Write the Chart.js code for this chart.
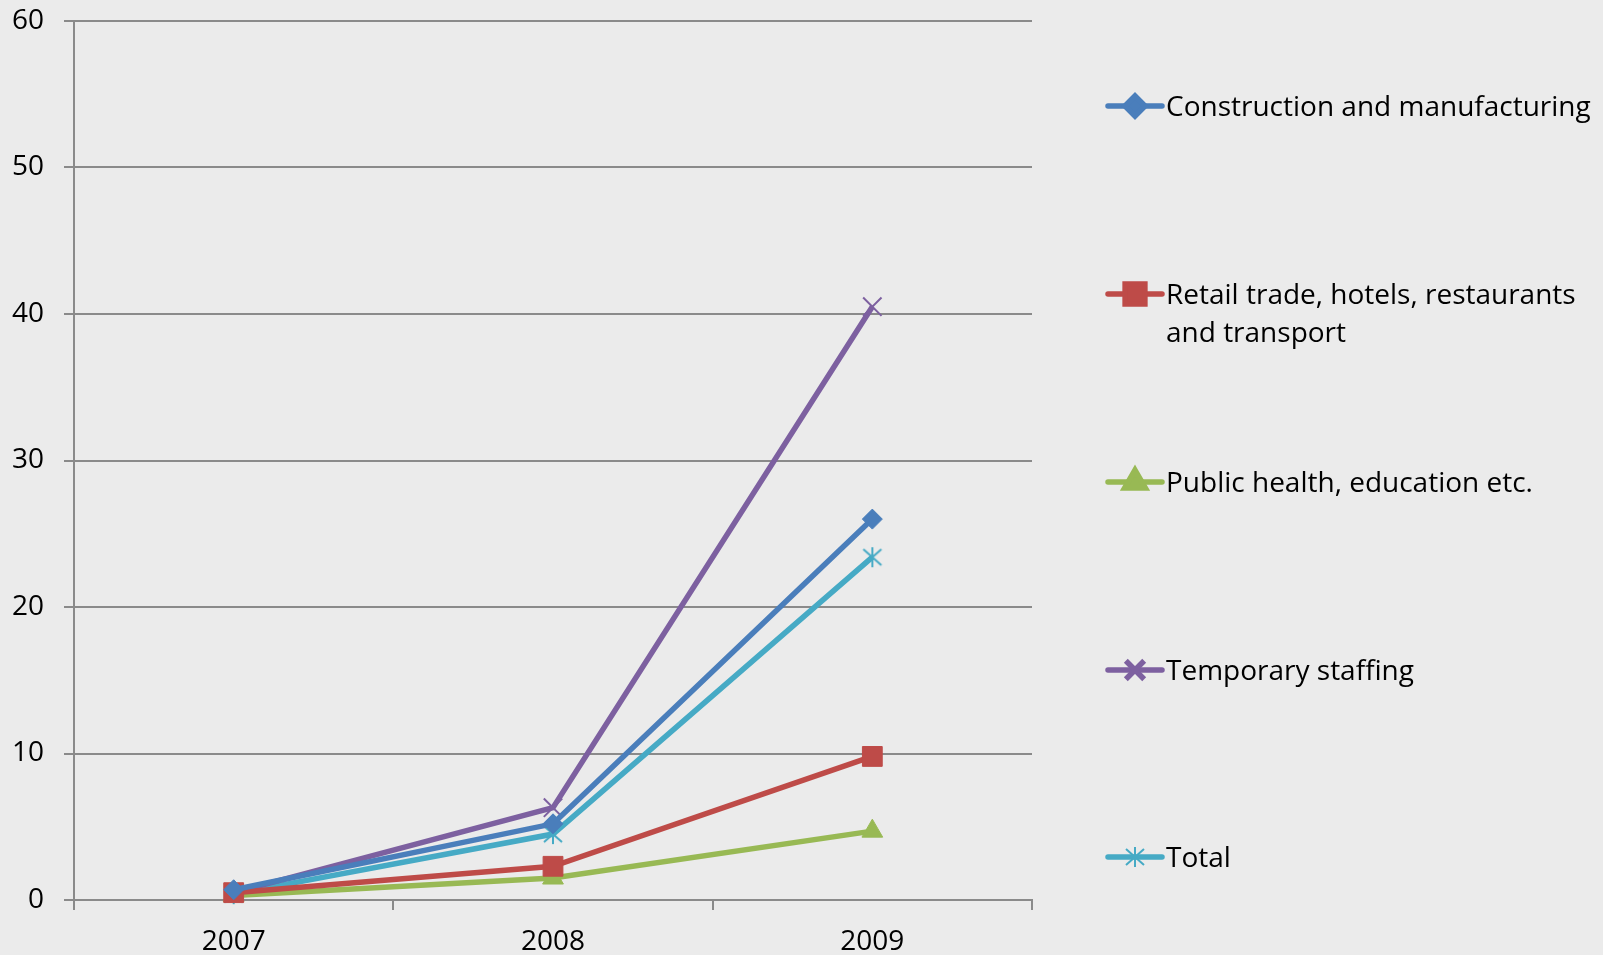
<!DOCTYPE html>
<html>
<head>
<meta charset="utf-8">
<script src="https://cdn.jsdelivr.net/npm/chart.js@4/dist/chart.umd.min.js"></script>
<style>
  html, body { margin: 0; padding: 0; background: #ebebeb; }
  canvas { display: block; }
</style>
</head>
<body>
<canvas id="trend" width="1603" height="955"></canvas>
<script>
// Categories and series
const years = ['2007', '2008', '2009'];
const construction = [0.7, 5.2, 26.0];
const retail = [0.5, 2.3, 9.8];
const publicHealth = [0.3, 1.5, 4.7];
const tempStaffing = [0.5, 6.3, 40.5];
const total = [0.4, 4.5, 23.4];

const seriesNames = [
  'Construction and manufacturing',
  ['Retail trade, hotels, restaurants', 'and transport'],
  'Public health, education etc.',
  'Temporary staffing',
  'Total'
];
const yTicks = [0, 10, 20, 30, 40, 50, 60];

const FONT = '"Open Sans", sans-serif';
const FONT_SIZE = 28;
const GRID = '#8a8a8a';

// six-armed asterisk marker (vertical stroke plus an X)
function asterisk(color) {
  const c = document.createElement('canvas');
  c.width = 22;
  c.height = 22;
  const g = c.getContext('2d');
  g.strokeStyle = color;
  g.lineWidth = 2;
  g.beginPath();
  g.moveTo(11, 1); g.lineTo(11, 21);
  g.moveTo(2, 3); g.lineTo(20, 19);
  g.moveTo(20, 3); g.lineTo(2, 19);
  g.stroke();
  return c;
}

function series(label, data, color, style, radius, borderW) {
  return {
    label: label,
    data: data,
    borderColor: color,
    backgroundColor: color,
    borderWidth: 5.5,
    pointStyle: style,
    pointRadius: radius,
    pointHoverRadius: radius,
    pointBorderWidth: borderW,
    pointBorderColor: color,
    pointBackgroundColor: color,
    tension: 0,
    clip: false
  };
}

// legend drawn on the right, one entry per dataset
const sideLegend = {
  id: 'sideLegend',
  afterDraw(chart) {
    const ctx = chart.ctx;
    const rows = [106, 294, 482, 670, 857];
    ctx.save();
    chart.data.datasets.forEach((ds, i) => {
      const y = rows[i];
      ctx.strokeStyle = ds.borderColor;
      ctx.lineWidth = 5.5;
      ctx.lineCap = 'round';
      ctx.beginPath();
      ctx.moveTo(1108, y);
      ctx.lineTo(1162, y);
      ctx.stroke();
      ctx.fillStyle = ds.borderColor;
      ctx.strokeStyle = ds.borderColor;
      ctx.lineCap = 'butt';
      Chart.helpers.drawPoint(ctx, {
        pointStyle: ds.pointStyle,
        radius: ds.pointRadius,
        rotation: 0,
        borderWidth: ds.pointBorderWidth
      }, 1135, y);
      ctx.fillStyle = '#000';
      ctx.font = FONT_SIZE + 'px ' + FONT;
      ctx.textBaseline = 'middle';
      ctx.textAlign = 'left';
      const lines = Array.isArray(seriesNames[i]) ? seriesNames[i] : [seriesNames[i]];
      lines.forEach((t, k) => ctx.fillText(t, 1166, y + 2 + k * 38));
    });
    ctx.restore();
  }
};

new Chart(document.getElementById('trend'), {
  type: 'line',
  data: {
    labels: years,
    datasets: [
      series(seriesNames[0], construction, '#4a7ebb', 'rectRot', 10, 1),
      series(seriesNames[1], retail, '#be4b48', 'rect', 14, 1),
      series(seriesNames[2], publicHealth, '#98b954', 'triangle', 12, 1),
      series(seriesNames[3], tempStaffing, '#7d60a0', 'crossRot', 13, 2),
      series(seriesNames[4], total, '#46aac5', asterisk('#46aac5'), 10, 2)
    ]
  },
  options: {
    responsive: false,
    devicePixelRatio: 1,
    animation: false,
    layout: { padding: { left: 0, top: 21, right: 571, bottom: 0 } },
    plugins: {
      legend: { display: false },
      tooltip: { enabled: false }
    },
    scales: {
      x: {
        type: 'category',
        offset: true,
        afterFit(scale) { scale.height = 55; },
        grid: {
          offset: true,
          drawOnChartArea: false,
          drawTicks: true,
          tickLength: 10,
          color: GRID,
          lineWidth: 2
        },
        border: { display: true, color: GRID, width: 2 },
        ticks: {
          color: '#000',
          padding: 15,
          maxRotation: 0,
          font: { family: FONT, size: FONT_SIZE }
        }
      },
      y: {
        min: 0,
        max: 60,
        afterFit(scale) { scale.width = 74; },
        afterBuildTicks(scale) { scale.ticks = yTicks.map(v => ({ value: v })); },
        grid: {
          color: GRID,
          lineWidth: 2,
          drawTicks: true,
          tickLength: 10
        },
        border: { display: true, color: GRID, width: 2 },
        ticks: {
          color: '#000',
          padding: 20,
          font: { family: FONT, size: FONT_SIZE, lineHeight: 0.02 }
        }
      }
    }
  },
  plugins: [sideLegend]
});
</script>
</body>
</html>
